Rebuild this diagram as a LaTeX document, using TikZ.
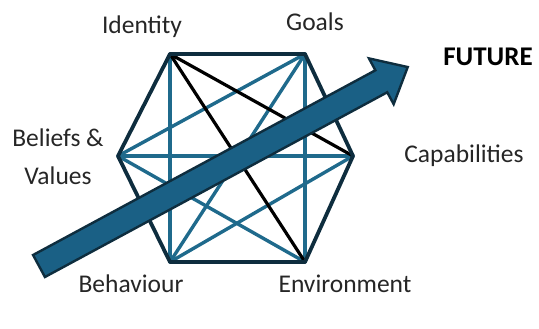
\documentclass[tikz,border=0pt]{standalone}
\usepackage{fontspec}
\setmainfont{Carlito}
\definecolor{navy}{HTML}{0E2D3E}
\definecolor{teal}{HTML}{1F6A8C}
\definecolor{arrowfill}{HTML}{1A6085}
\begin{document}
\begin{tikzpicture}[x=1pt,y=-1pt,
  rim/.style={draw=navy,line width=3.8pt,line join=round,line cap=round},
  web/.style={draw=teal,line width=3.4pt,line cap=round},
  core/.style={draw=black,line width=3.2pt,line cap=round},
  lbl/.style={font=\fontsize{25.5}{30}\selectfont,text=black!85,inner sep=0pt},
  bigarrow/.style={fill=arrowfill,draw=navy,line width=2.4pt,line join=miter}]
  \useasboundingbox (0,0) rectangle (539,329);

  % hexagon corners
  \coordinate (I) at (170,54);
  \coordinate (G) at (305,54);
  \coordinate (C) at (353,156);
  \coordinate (E) at (305,262);
  \coordinate (B) at (170,262);
  \coordinate (V) at (118,156);

  % cross links
  \draw[web] (I) -- (B);
  \draw[web] (G) -- (E);
  \draw[web] (G) -- (V);
  \draw[web] (G) -- (B);
  \draw[web] (V) -- (C);
  \draw[web] (V) -- (E);
  \draw[web] (C) -- (B);
  \draw[core] (I) -- (C);
  \draw[core] (I) -- (E);

  % outer rim
  \draw[rim] (I) -- (G) -- (C) -- (E) -- (B) -- (V) -- cycle;

  % arrow towards the future
  \coordinate (tail) at (39,266);
  \coordinate (tip) at (408,67);
  \begin{scope}[shift={(tail)},rotate=28.35]
    \filldraw[bigarrow] (0,12.5) -- (389,12.5) -- (389,26) -- (419,0)
      -- (389,-26) -- (389,-12.5) -- (0,-12.5) -- cycle;
  \end{scope}

  % labels
  \node[lbl] (identity) at (142,27) {Identity};
  \node[lbl] (goals) at (315,22) {Goals};
  \node[lbl,font=\fontsize{27}{32}\selectfont\bfseries,text=black] (future) at (488,57) {FUTURE};
  \node[lbl] (capabilities) at (464,156) {Capabilities};
  \node[lbl,align=center,font=\fontsize{25.5}{38}\selectfont] (beliefs) at (58,157) {Beliefs \&\\Values};
  \node[lbl] (behaviour) at (131,284) {Behaviour};
  \node[lbl] (environment) at (345,284) {Environment};
\end{tikzpicture}
\end{document}
